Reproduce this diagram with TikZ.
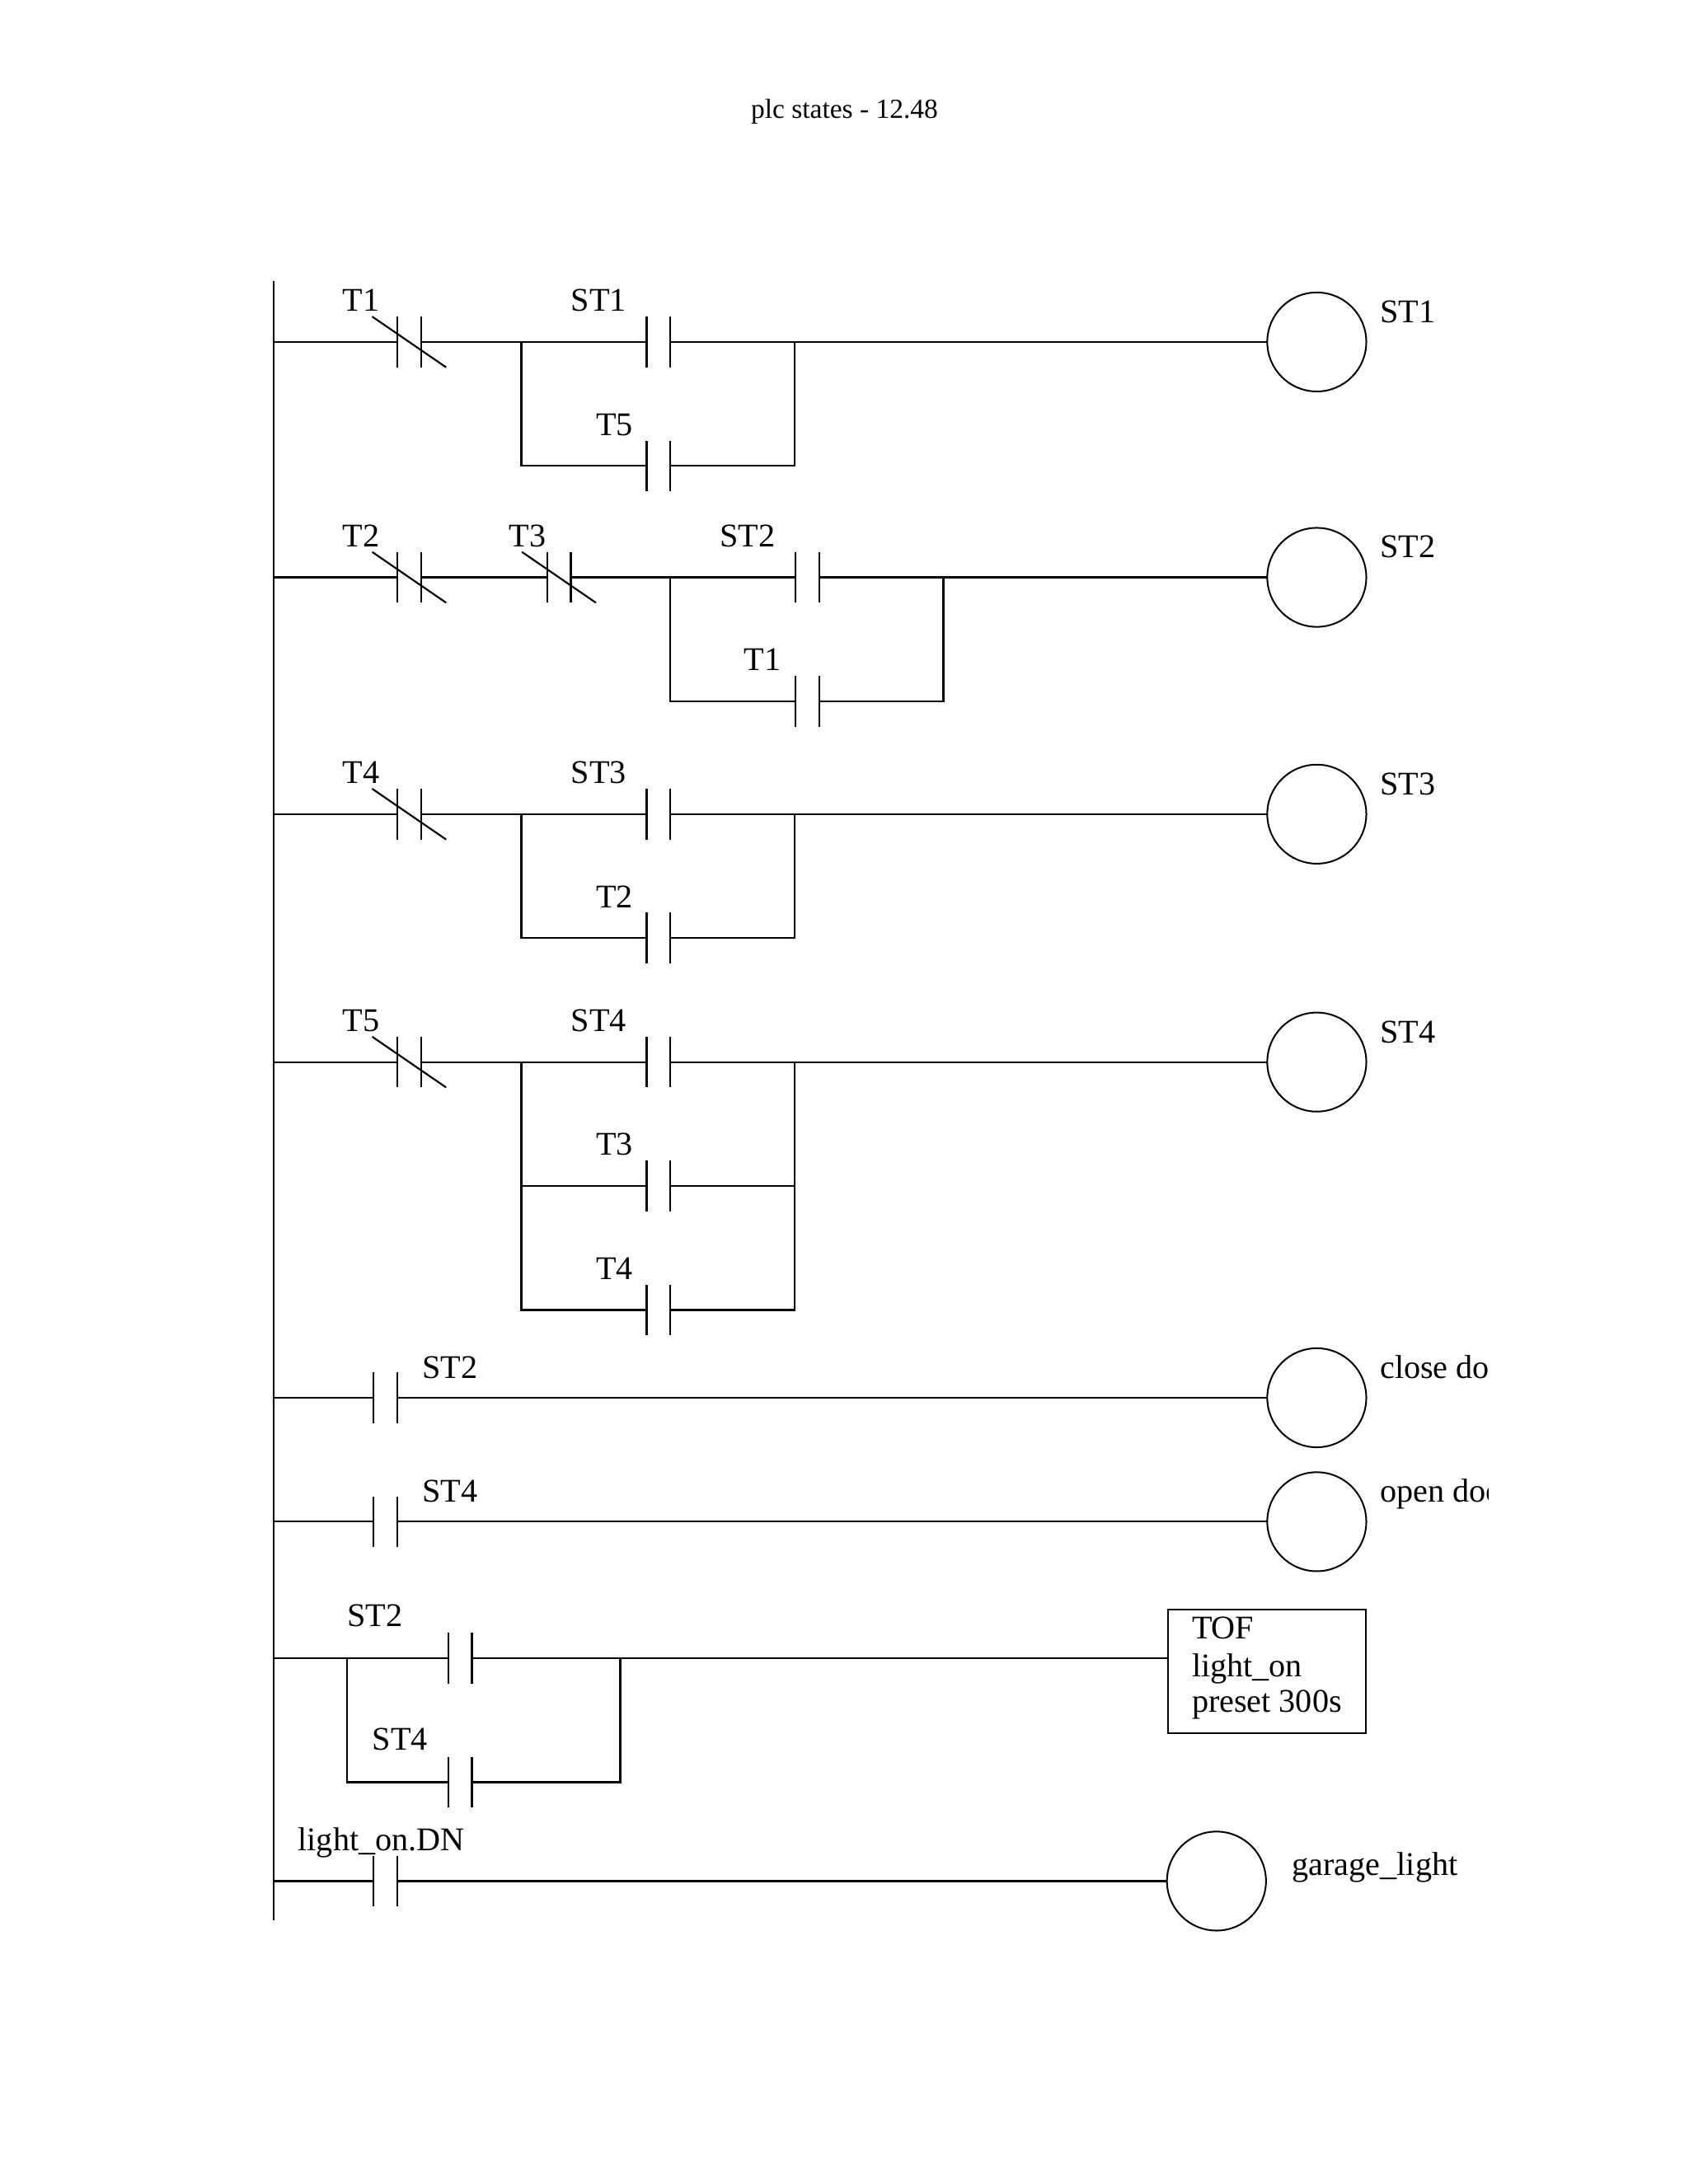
\documentclass[tikz,border=0pt]{standalone}
\usepackage{fontspec}
\setmainfont{Liberation Serif}
\usetikzlibrary{positioning}

\tikzset{
    wire/.style={line width=0.65pt, line cap=butt},
    contact/.style={rectangle, inner sep=0pt, outer sep=0pt, minimum width=8.6pt, minimum height=18.4pt},
    coil/.style={circle, draw, line width=0.6pt, inner sep=0pt, outer sep=0pt, minimum size=35.9pt},
    tag/.style={inner sep=0pt, anchor=base, font=\fontsize{12}{14}\selectfont},
    coiltag/.style={tag, anchor=base west},
    timerbox/.style={rectangle, draw, line width=0.6pt, outer sep=0pt, inner sep=0pt, minimum width=71.7pt, minimum height=45pt}
}

\begin{document}
\begin{tikzpicture}[x=0.505pt, y=-0.505pt]
    \useasboundingbox (-0.2,-0.5) rectangle (1211.8,1567.5);

    \node[tag, font=\fontsize{10}{12}\selectfont] (title) at (606,84.3) {plc states - 12.48};

    \coordinate (railtop) at (196,201);
    \coordinate (railbot) at (196,1378);
    \draw[wire] (railtop) -- (railbot);

    % rungs with one closed contact and a holding branch
    \foreach \n/\y/\closed/\hold/\other in {1/245/T1/ST1/T5, 3/584/T4/ST3/T2, 4/762/T5/ST4/T3}{
        \coordinate (rail\n) at (196,\y);
        \coordinate (jl\n) at (374,\y);
        \coordinate (jr\n) at (570,\y);
        \node[contact] (nc\n) at (293.5,\y) {};
        \node[contact] (ho\n) at (472.5,\y) {};
        \node[contact] (br\n) at (472.5,\y+89) {};
        \node[coil] (coil\n) at (945,\y) {};
        \node[tag] (tnc\n) at (259,\y-22) {\closed};
        \node[tag] (tho\n) at (429.5,\y-22) {\hold};
        \node[tag] (tbr\n) at (441,\y+67) {\other};
        \node[coiltag] (tcoil\n) at (990,\y-14) {\hold};
        \draw[wire] (rail\n) -- (nc\n.west);
        \draw[wire] (nc\n.east) -- (jl\n) -- (ho\n.west);
        \draw[wire] (ho\n.east) -- (jr\n) -- (coil\n.west);
        \draw[wire] (jl\n) |- (br\n.west);
        \draw[wire] (br\n.east) -| (jr\n);
    }

    % second rung
    \coordinate (rail2) at (196,414);
    \coordinate (jl2) at (481,414);
    \coordinate (jr2) at (677,414);
    \node[contact] (nc2) at (293.5,414) {};
    \node[contact] (nd2) at (401,414) {};
    \node[contact] (ho2) at (579.5,414) {};
    \node[contact] (br2) at (579.5,503) {};
    \node[coil] (coil2) at (945,414) {};
    \node[tag] (tnc2) at (259,392) {T2};
    \node[tag] (tnd2) at (378.5,392) {T3};
    \node[tag] (tho2) at (536.5,392) {ST2};
    \node[tag] (tbr2) at (547,481) {T1};
    \node[coiltag] (tcoil2) at (990,400) {ST2};
    \draw[wire] (rail2) -- (nc2.west);
    \draw[wire] (nc2.east) -- (nd2.west);
    \draw[wire] (nd2.east) -- (jl2) -- (ho2.west);
    \draw[wire] (ho2.east) -- (jr2) -- (coil2.west);
    \draw[wire] (jl2) |- (br2.west);
    \draw[wire] (br2.east) -| (jr2);

    % extra branch on the fourth rung
    \node[contact] (bs4) at (472.5,940) {};
    \node[tag] (tbs4) at (441,918) {T4};
    \draw[wire] (jl4) |- (bs4.west);
    \draw[wire] (bs4.east) -| (jr4);

    % door outputs
    \foreach \n/\y/\name/\out in {5/1003/ST2/close do, 6/1092/ST4/open doo}{
        \coordinate (rail\n) at (196,\y);
        \node[contact] (ho\n) at (276.5,\y) {};
        \node[coil] (coil\n) at (945,\y) {};
        \node[tag] (tho\n) at (322.8,\y-14) {\name};
        \draw[wire] (rail\n) -- (ho\n.west);
        \draw[wire] (ho\n.east) -- (coil\n.west);
        \begin{scope}
            \clip (980,\y-40) rectangle (1068,\y+10);
            \node[coiltag] (tcoil\n) at (990,\y-14) {\out};
        \end{scope}
    }

    % timer rung
    \coordinate (rail7) at (196,1190);
    \coordinate (jl7) at (249,1190);
    \coordinate (jr7) at (445,1190);
    \node[contact] (ho7) at (330,1190) {};
    \node[contact] (br7) at (330,1279) {};
    \node[timerbox, anchor=north west] (timer) at (838,1155) {};
    \node[coiltag] (ttimer1) at (855,1176) {TOF};
    \node[coiltag] (ttimer2) at (855,1203) {light\_on};
    \node[coiltag] (ttimer3) at (855,1229) {preset 300s};
    \node[tag] (tho7) at (269,1167) {ST2};
    \node[tag] (tbr7) at (287,1256) {ST4};
    \draw[wire] (rail7) -- (ho7.west);
    \draw[wire] (ho7.east) -- (jr7) -- (timer.west |- jr7);
    \draw[wire] (jl7) |- (br7.west);
    \draw[wire] (br7.east) -| (jr7);

    % light rung
    \coordinate (rail8) at (196,1350);
    \node[contact] (ho8) at (276.5,1350) {};
    \node[coil] (coil8) at (873,1350) {};
    \node[tag] (tho8) at (273.5,1328) {light\_on.DN};
    \node[coiltag] (tcoil8) at (927,1346) {garage\_light};
    \draw[wire] (rail8) -- (ho8.west);
    \draw[wire] (ho8.east) -- (coil8.west);

    \foreach \c in {nc1,ho1,br1,nc2,nd2,ho2,br2,nc3,ho3,br3,nc4,ho4,br4,bs4,ho5,ho6,ho7,br7,ho8}{
        \draw[wire] (\c.north west) -- (\c.south west);
        \draw[wire] (\c.north east) -- (\c.south east);
    }
    \foreach \c in {nc1,nc2,nd2,nc3,nc4}{
        \draw[wire] ([xshift=-9.1pt]\c.north west) -- ([xshift=9.1pt]\c.south east);
    }
\end{tikzpicture}
\end{document}
